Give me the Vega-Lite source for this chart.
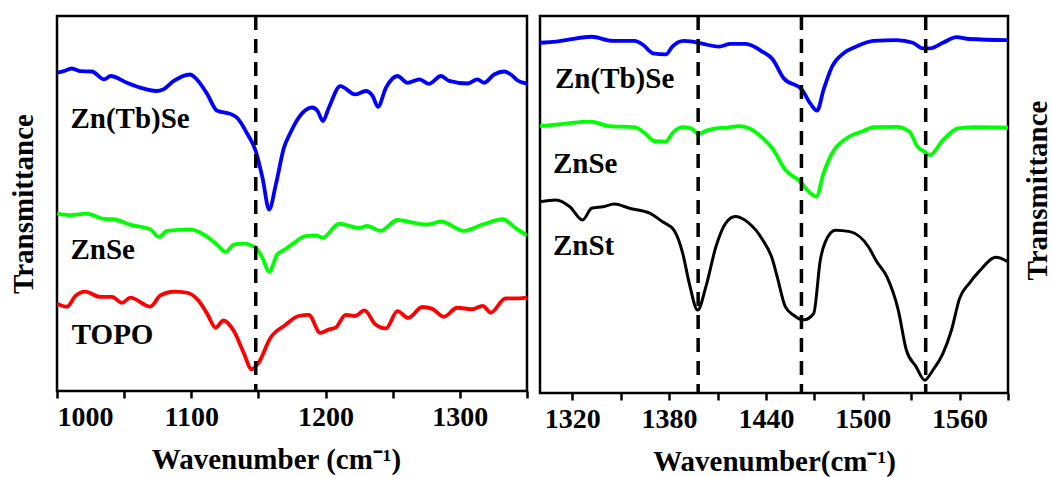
{
  "$schema": "https://vega.github.io/schema/vega-lite/v6.json",
  "background": "white",
  "padding": {"left": 7, "top": 13, "right": 0, "bottom": 0},
  "spacing": 8,
  "config": {
    "view": {"stroke": "black", "strokeWidth": 2.5},
    "axis": {
      "domain": false,
      "grid": false,
      "tickColor": "black",
      "tickWidth": 2.5,
      "tickSize": 7,
      "labelFont": "Liberation Serif",
      "labelFontWeight": "bold",
      "labelFontSize": 28,
      "labelColor": "black",
      "labelPadding": 5,
      "titleFont": "Liberation Serif",
      "titleFontWeight": "bold",
      "titleFontSize": 29,
      "titleColor": "black",
      "titlePadding": 14
    }
  },
  "datasets": {
    "ftir_low": [
      {"s": "Zn(Tb)Se", "wn": 1000, "t": 84.9}, {"s": "Zn(Tb)Se", "wn": 1005, "t": 85.3}, {"s": "Zn(Tb)Se", "wn": 1011, "t": 86.0},
      {"s": "Zn(Tb)Se", "wn": 1017, "t": 85.3}, {"s": "Zn(Tb)Se", "wn": 1026, "t": 85.2}, {"s": "Zn(Tb)Se", "wn": 1035, "t": 83.1},
      {"s": "Zn(Tb)Se", "wn": 1040, "t": 84.0}, {"s": "Zn(Tb)Se", "wn": 1052, "t": 82.2}, {"s": "Zn(Tb)Se", "wn": 1062, "t": 80.9},
      {"s": "Zn(Tb)Se", "wn": 1074, "t": 80.0}, {"s": "Zn(Tb)Se", "wn": 1079, "t": 80.4}, {"s": "Zn(Tb)Se", "wn": 1087, "t": 82.7},
      {"s": "Zn(Tb)Se", "wn": 1099, "t": 84.4}, {"s": "Zn(Tb)Se", "wn": 1103, "t": 83.5}, {"s": "Zn(Tb)Se", "wn": 1112, "t": 79.1},
      {"s": "Zn(Tb)Se", "wn": 1119, "t": 74.8}, {"s": "Zn(Tb)Se", "wn": 1129, "t": 73.9}, {"s": "Zn(Tb)Se", "wn": 1134, "t": 72.9},
      {"s": "Zn(Tb)Se", "wn": 1142, "t": 68.4}, {"s": "Zn(Tb)Se", "wn": 1148, "t": 64.0}, {"s": "Zn(Tb)Se", "wn": 1153, "t": 56.9},
      {"s": "Zn(Tb)Se", "wn": 1158, "t": 48.4}, {"s": "Zn(Tb)Se", "wn": 1163, "t": 55.1}, {"s": "Zn(Tb)Se", "wn": 1169, "t": 64.9},
      {"s": "Zn(Tb)Se", "wn": 1174, "t": 69.0}, {"s": "Zn(Tb)Se", "wn": 1180, "t": 72.9}, {"s": "Zn(Tb)Se", "wn": 1190, "t": 75.6},
      {"s": "Zn(Tb)Se", "wn": 1194, "t": 74.7}, {"s": "Zn(Tb)Se", "wn": 1198, "t": 72.0}, {"s": "Zn(Tb)Se", "wn": 1202.5, "t": 75.6},
      {"s": "Zn(Tb)Se", "wn": 1211, "t": 81.3}, {"s": "Zn(Tb)Se", "wn": 1222, "t": 79.1}, {"s": "Zn(Tb)Se", "wn": 1230, "t": 80.0},
      {"s": "Zn(Tb)Se", "wn": 1235, "t": 78.7}, {"s": "Zn(Tb)Se", "wn": 1239, "t": 75.8}, {"s": "Zn(Tb)Se", "wn": 1245, "t": 80.9},
      {"s": "Zn(Tb)Se", "wn": 1253.5, "t": 84.0}, {"s": "Zn(Tb)Se", "wn": 1261, "t": 82.2}, {"s": "Zn(Tb)Se", "wn": 1270, "t": 83.1},
      {"s": "Zn(Tb)Se", "wn": 1277, "t": 81.9}, {"s": "Zn(Tb)Se", "wn": 1286, "t": 84.0}, {"s": "Zn(Tb)Se", "wn": 1292, "t": 82.7},
      {"s": "Zn(Tb)Se", "wn": 1306, "t": 82.0}, {"s": "Zn(Tb)Se", "wn": 1313, "t": 83.1}, {"s": "Zn(Tb)Se", "wn": 1318, "t": 82.2},
      {"s": "Zn(Tb)Se", "wn": 1325.5, "t": 84.4}, {"s": "Zn(Tb)Se", "wn": 1333, "t": 85.2}, {"s": "Zn(Tb)Se", "wn": 1338, "t": 84.4},
      {"s": "Zn(Tb)Se", "wn": 1343, "t": 82.8}, {"s": "Zn(Tb)Se", "wn": 1350, "t": 82.0},

      {"s": "ZnSe", "wn": 1000, "t": 47.3}, {"s": "ZnSe", "wn": 1010, "t": 46.9}, {"s": "ZnSe", "wn": 1022, "t": 47.3},
      {"s": "ZnSe", "wn": 1035, "t": 45.9}, {"s": "ZnSe", "wn": 1042, "t": 45.8}, {"s": "ZnSe", "wn": 1055, "t": 44.3},
      {"s": "ZnSe", "wn": 1069.5, "t": 43.1}, {"s": "ZnSe", "wn": 1076, "t": 41.1}, {"s": "ZnSe", "wn": 1082, "t": 42.7},
      {"s": "ZnSe", "wn": 1099, "t": 43.1}, {"s": "ZnSe", "wn": 1107, "t": 42.2}, {"s": "ZnSe", "wn": 1119, "t": 39.1},
      {"s": "ZnSe", "wn": 1125.5, "t": 37.1}, {"s": "ZnSe", "wn": 1132, "t": 39.1}, {"s": "ZnSe", "wn": 1139, "t": 39.3},
      {"s": "ZnSe", "wn": 1148, "t": 38.2}, {"s": "ZnSe", "wn": 1153, "t": 35.5}, {"s": "ZnSe", "wn": 1158, "t": 31.8},
      {"s": "ZnSe", "wn": 1164, "t": 36.4}, {"s": "ZnSe", "wn": 1170, "t": 37.8}, {"s": "ZnSe", "wn": 1175, "t": 39.1},
      {"s": "ZnSe", "wn": 1185, "t": 41.3}, {"s": "ZnSe", "wn": 1192.5, "t": 41.5}, {"s": "ZnSe", "wn": 1198, "t": 40.9},
      {"s": "ZnSe", "wn": 1210, "t": 44.6}, {"s": "ZnSe", "wn": 1225, "t": 43.5}, {"s": "ZnSe", "wn": 1231, "t": 44.0},
      {"s": "ZnSe", "wn": 1241, "t": 42.7}, {"s": "ZnSe", "wn": 1253.5, "t": 45.6}, {"s": "ZnSe", "wn": 1265, "t": 44.9},
      {"s": "ZnSe", "wn": 1276, "t": 44.4}, {"s": "ZnSe", "wn": 1286, "t": 45.2}, {"s": "ZnSe", "wn": 1303, "t": 42.7},
      {"s": "ZnSe", "wn": 1317, "t": 44.4}, {"s": "ZnSe", "wn": 1332, "t": 45.8}, {"s": "ZnSe", "wn": 1342, "t": 43.3},
      {"s": "ZnSe", "wn": 1350, "t": 41.5},

      {"s": "TOPO", "wn": 1000, "t": 23.3}, {"s": "TOPO", "wn": 1007.5, "t": 22.5}, {"s": "TOPO", "wn": 1013.6, "t": 25.3},
      {"s": "TOPO", "wn": 1021, "t": 26.5}, {"s": "TOPO", "wn": 1032, "t": 25.1}, {"s": "TOPO", "wn": 1041, "t": 25.1},
      {"s": "TOPO", "wn": 1048.5, "t": 23.5}, {"s": "TOPO", "wn": 1054.6, "t": 24.9}, {"s": "TOPO", "wn": 1069.5, "t": 22.5},
      {"s": "TOPO", "wn": 1077, "t": 25.5}, {"s": "TOPO", "wn": 1087, "t": 26.5}, {"s": "TOPO", "wn": 1097, "t": 26.2},
      {"s": "TOPO", "wn": 1105.6, "t": 24.0}, {"s": "TOPO", "wn": 1112, "t": 20.5}, {"s": "TOPO", "wn": 1118, "t": 16.9},
      {"s": "TOPO", "wn": 1124, "t": 18.8}, {"s": "TOPO", "wn": 1131.7, "t": 16.0}, {"s": "TOPO", "wn": 1139, "t": 10.2},
      {"s": "TOPO", "wn": 1145, "t": 5.8}, {"s": "TOPO", "wn": 1150, "t": 7.5}, {"s": "TOPO", "wn": 1159, "t": 14.2},
      {"s": "TOPO", "wn": 1170, "t": 17.6}, {"s": "TOPO", "wn": 1180, "t": 20.0}, {"s": "TOPO", "wn": 1187.5, "t": 20.3},
      {"s": "TOPO", "wn": 1196, "t": 15.5}, {"s": "TOPO", "wn": 1202.5, "t": 16.4}, {"s": "TOPO", "wn": 1207.5, "t": 16.9},
      {"s": "TOPO", "wn": 1215, "t": 20.3}, {"s": "TOPO", "wn": 1222, "t": 20.0}, {"s": "TOPO", "wn": 1229, "t": 21.5},
      {"s": "TOPO", "wn": 1237, "t": 17.8}, {"s": "TOPO", "wn": 1245, "t": 16.7}, {"s": "TOPO", "wn": 1253.5, "t": 21.3},
      {"s": "TOPO", "wn": 1261.6, "t": 19.5}, {"s": "TOPO", "wn": 1272, "t": 22.4}, {"s": "TOPO", "wn": 1279.5, "t": 21.9},
      {"s": "TOPO", "wn": 1288, "t": 19.8}, {"s": "TOPO", "wn": 1298, "t": 22.2}, {"s": "TOPO", "wn": 1309, "t": 21.8},
      {"s": "TOPO", "wn": 1317, "t": 22.7}, {"s": "TOPO", "wn": 1323, "t": 20.9}, {"s": "TOPO", "wn": 1334, "t": 24.7},
      {"s": "TOPO", "wn": 1344, "t": 24.7}, {"s": "TOPO", "wn": 1350, "t": 24.9}
    ],
    "ftir_high": [
      {"s": "Zn(Tb)Se", "wn": 1300, "t": 92.9}, {"s": "Zn(Tb)Se", "wn": 1310, "t": 93.2}, {"s": "Zn(Tb)Se", "wn": 1318.5, "t": 93.8},
      {"s": "Zn(Tb)Se", "wn": 1332, "t": 94.5}, {"s": "Zn(Tb)Se", "wn": 1345, "t": 93.4}, {"s": "Zn(Tb)Se", "wn": 1358.6, "t": 93.4},
      {"s": "Zn(Tb)Se", "wn": 1364, "t": 92.3}, {"s": "Zn(Tb)Se", "wn": 1370, "t": 90.1}, {"s": "Zn(Tb)Se", "wn": 1378, "t": 89.8},
      {"s": "Zn(Tb)Se", "wn": 1382, "t": 91.9}, {"s": "Zn(Tb)Se", "wn": 1389, "t": 93.4}, {"s": "Zn(Tb)Se", "wn": 1394.6, "t": 93.2},
      {"s": "Zn(Tb)Se", "wn": 1401, "t": 92.6}, {"s": "Zn(Tb)Se", "wn": 1411, "t": 91.9}, {"s": "Zn(Tb)Se", "wn": 1418, "t": 92.6},
      {"s": "Zn(Tb)Se", "wn": 1427.5, "t": 92.6}, {"s": "Zn(Tb)Se", "wn": 1438, "t": 90.5}, {"s": "Zn(Tb)Se", "wn": 1444, "t": 88.6},
      {"s": "Zn(Tb)Se", "wn": 1451, "t": 83.5}, {"s": "Zn(Tb)Se", "wn": 1462.4, "t": 80.4}, {"s": "Zn(Tb)Se", "wn": 1467.5, "t": 76.8},
      {"s": "Zn(Tb)Se", "wn": 1471.7, "t": 74.9}, {"s": "Zn(Tb)Se", "wn": 1475.7, "t": 80.4}, {"s": "Zn(Tb)Se", "wn": 1481, "t": 86.6},
      {"s": "Zn(Tb)Se", "wn": 1488, "t": 90.1}, {"s": "Zn(Tb)Se", "wn": 1496, "t": 91.9}, {"s": "Zn(Tb)Se", "wn": 1506.6, "t": 93.4},
      {"s": "Zn(Tb)Se", "wn": 1521, "t": 93.6}, {"s": "Zn(Tb)Se", "wn": 1531, "t": 92.9}, {"s": "Zn(Tb)Se", "wn": 1537.4, "t": 91.4},
      {"s": "Zn(Tb)Se", "wn": 1541.5, "t": 91.4}, {"s": "Zn(Tb)Se", "wn": 1549.7, "t": 92.9}, {"s": "Zn(Tb)Se", "wn": 1558, "t": 94.4},
      {"s": "Zn(Tb)Se", "wn": 1566, "t": 93.9}, {"s": "Zn(Tb)Se", "wn": 1590, "t": 93.6},

      {"s": "ZnSe", "wn": 1300, "t": 70.8}, {"s": "ZnSe", "wn": 1314.5, "t": 71.4}, {"s": "ZnSe", "wn": 1331, "t": 72.0},
      {"s": "ZnSe", "wn": 1343, "t": 70.8}, {"s": "ZnSe", "wn": 1358.6, "t": 70.5}, {"s": "ZnSe", "wn": 1365, "t": 68.9},
      {"s": "ZnSe", "wn": 1371, "t": 66.8}, {"s": "ZnSe", "wn": 1378, "t": 66.7}, {"s": "ZnSe", "wn": 1382, "t": 68.9},
      {"s": "ZnSe", "wn": 1388, "t": 70.5}, {"s": "ZnSe", "wn": 1393.6, "t": 70.2}, {"s": "ZnSe", "wn": 1398.3, "t": 68.7},
      {"s": "ZnSe", "wn": 1403, "t": 69.6}, {"s": "ZnSe", "wn": 1409, "t": 70.2}, {"s": "ZnSe", "wn": 1416, "t": 70.4},
      {"s": "ZnSe", "wn": 1423, "t": 70.8}, {"s": "ZnSe", "wn": 1429.5, "t": 70.2}, {"s": "ZnSe", "wn": 1438, "t": 67.6},
      {"s": "ZnSe", "wn": 1444, "t": 64.9}, {"s": "ZnSe", "wn": 1452, "t": 59.2}, {"s": "ZnSe", "wn": 1461.4, "t": 56.0},
      {"s": "ZnSe", "wn": 1466.5, "t": 53.4}, {"s": "ZnSe", "wn": 1471.2, "t": 52.1}, {"s": "ZnSe", "wn": 1475.7, "t": 58.3},
      {"s": "ZnSe", "wn": 1481, "t": 63.6}, {"s": "ZnSe", "wn": 1490, "t": 67.6}, {"s": "ZnSe", "wn": 1500.4, "t": 69.5},
      {"s": "ZnSe", "wn": 1506.6, "t": 70.5}, {"s": "ZnSe", "wn": 1521, "t": 70.6}, {"s": "ZnSe", "wn": 1529, "t": 69.3},
      {"s": "ZnSe", "wn": 1534, "t": 65.3}, {"s": "ZnSe", "wn": 1538.4, "t": 64.0}, {"s": "ZnSe", "wn": 1541.5, "t": 63.1},
      {"s": "ZnSe", "wn": 1549.7, "t": 67.1}, {"s": "ZnSe", "wn": 1559, "t": 70.2}, {"s": "ZnSe", "wn": 1570, "t": 70.5},
      {"s": "ZnSe", "wn": 1590, "t": 70.4},

      {"s": "ZnSt", "wn": 1300, "t": 50.7}, {"s": "ZnSt", "wn": 1310, "t": 51.2}, {"s": "ZnSt", "wn": 1318.5, "t": 49.4},
      {"s": "ZnSt", "wn": 1326.4, "t": 45.9}, {"s": "ZnSt", "wn": 1332, "t": 49.0}, {"s": "ZnSt", "wn": 1339, "t": 49.4},
      {"s": "ZnSt", "wn": 1346, "t": 50.1}, {"s": "ZnSt", "wn": 1355.5, "t": 49.0}, {"s": "ZnSt", "wn": 1368, "t": 47.7},
      {"s": "ZnSt", "wn": 1376, "t": 45.4}, {"s": "ZnSt", "wn": 1383, "t": 43.2}, {"s": "ZnSt", "wn": 1388.4, "t": 37.1},
      {"s": "ZnSt", "wn": 1392.5, "t": 29.1}, {"s": "ZnSt", "wn": 1397.7, "t": 22.0}, {"s": "ZnSt", "wn": 1402.8, "t": 28.2},
      {"s": "ZnSt", "wn": 1409, "t": 38.8}, {"s": "ZnSt", "wn": 1415, "t": 45.0}, {"s": "ZnSt", "wn": 1421, "t": 46.8},
      {"s": "ZnSt", "wn": 1428.5, "t": 45.4}, {"s": "ZnSt", "wn": 1438, "t": 40.6}, {"s": "ZnSt", "wn": 1444, "t": 35.5},
      {"s": "ZnSt", "wn": 1447, "t": 30.8}, {"s": "ZnSt", "wn": 1452, "t": 22.9}, {"s": "ZnSt", "wn": 1457, "t": 20.7},
      {"s": "ZnSt", "wn": 1463.4, "t": 19.4}, {"s": "ZnSt", "wn": 1469.6, "t": 21.1}, {"s": "ZnSt", "wn": 1473.7, "t": 35.3},
      {"s": "ZnSt", "wn": 1476.8, "t": 40.1}, {"s": "ZnSt", "wn": 1483, "t": 43.2}, {"s": "ZnSt", "wn": 1492, "t": 42.8},
      {"s": "ZnSt", "wn": 1503.5, "t": 38.8}, {"s": "ZnSt", "wn": 1508.7, "t": 34.8}, {"s": "ZnSt", "wn": 1515, "t": 30.8},
      {"s": "ZnSt", "wn": 1522, "t": 22.0}, {"s": "ZnSt", "wn": 1527, "t": 11.4}, {"s": "ZnSt", "wn": 1533, "t": 7.0},
      {"s": "ZnSt", "wn": 1538.4, "t": 3.4}, {"s": "ZnSt", "wn": 1543.5, "t": 6.1}, {"s": "ZnSt", "wn": 1549.7, "t": 10.5},
      {"s": "ZnSt", "wn": 1555, "t": 16.7}, {"s": "ZnSt", "wn": 1560, "t": 25.1}, {"s": "ZnSt", "wn": 1566, "t": 29.1},
      {"s": "ZnSt", "wn": 1572, "t": 32.2}, {"s": "ZnSt", "wn": 1582.6, "t": 36.0}, {"s": "ZnSt", "wn": 1590, "t": 34.8}
    ],
    "peaks_low": [{"wn": 1148}],
    "peaks_high": [{"wn": 1398}, {"wn": 1462}, {"wn": 1539}],
    "labels_low": [
      {"label": "Zn(Tb)Se", "wn": 1010, "t": 70.1},
      {"label": "ZnSe", "wn": 1010, "t": 35.2},
      {"label": "TOPO", "wn": 1011, "t": 12.5}
    ],
    "labels_high": [
      {"label": "Zn(Tb)Se", "wn": 1309.3, "t": 80.8},
      {"label": "ZnSe", "wn": 1308, "t": 58.4},
      {"label": "ZnSt", "wn": 1308, "t": 36.6}
    ]
  },
  "hconcat": [
    {
      "width": 470,
      "height": 375,
      "layer": [
        {
          "data": {"name": "ftir_low"},
          "mark": {"type": "line", "interpolate": "monotone", "strokeWidth": 3.8, "clip": true},
          "encoding": {
            "x": {
              "field": "wn", "type": "quantitative",
              "scale": {"domain": [1000, 1350], "nice": false, "zero": false},
              "axis": {
                "title": "Wavenumber (cm⁻¹)",
                "titleX": 219,
                "values": [1000, 1050, 1100, 1150, 1200, 1250, 1300, 1350],
                "format": "d",
                "labelExpr": "datum.value % 100 === 0 ? datum.label : ''",
                "labelFont": "Liberation Serif", "labelFontWeight": "bold", "labelFontSize": 28
              }
            },
            "y": {
              "field": "t", "type": "quantitative",
              "scale": {"domain": [0, 100], "nice": false, "zero": false},
              "axis": {"title": "Transmittance", "labels": false, "ticks": false, "titlePadding": 19}
            },
            "color": {
              "field": "s", "type": "nominal",
              "scale": {"domain": ["Zn(Tb)Se", "ZnSe", "TOPO", "ZnSt"], "range": ["#0000ff", "#00ff00", "#ff0000", "#000000"]},
              "legend": null
            }
          }
        },
        {
          "data": {"name": "peaks_low"},
          "mark": {"type": "rule", "color": "black", "strokeWidth": 3.5, "strokeDash": [14, 9]},
          "encoding": {"x": {"field": "wn", "type": "quantitative"}}
        },
        {
          "data": {"name": "labels_low"},
          "mark": {"type": "text", "align": "left", "baseline": "alphabetic", "font": "Liberation Serif", "fontWeight": "bold", "fontSize": 29, "color": "black"},
          "encoding": {
            "x": {"field": "wn", "type": "quantitative"},
            "y": {"field": "t", "type": "quantitative"},
            "text": {"field": "label"}
          }
        }
      ]
    },
    {
      "width": 468,
      "height": 377,
      "layer": [
        {
          "data": {"name": "ftir_high"},
          "transform": [{"filter": "datum.s !== 'ZnSt'"}],
          "mark": {"type": "line", "interpolate": "monotone", "strokeWidth": 3.8, "clip": true},
          "encoding": {
            "x": {
              "field": "wn", "type": "quantitative",
              "scale": {"domain": [1300, 1590], "nice": false, "zero": false},
              "axis": {
                "title": "Wavenumber(cm⁻¹)",
                "values": [1320, 1350, 1380, 1410, 1440, 1470, 1500, 1530, 1560, 1590],
                "format": "d",
                "labelExpr": "(datum.value - 1320) % 60 === 0 ? datum.label : ''",
                "labelFont": "Liberation Serif", "labelFontWeight": "bold", "labelFontSize": 28
              }
            },
            "y": {
              "field": "t", "type": "quantitative",
              "scale": {"domain": [0, 100], "nice": false, "zero": false},
              "axis": {"orient": "right", "title": "Transmittance", "labels": false, "ticks": false, "titleAngle": 270, "titleBaseline": "top", "titlePadding": 15, "titleY": 174}
            },
            "color": {
              "field": "s", "type": "nominal",
              "scale": {"domain": ["Zn(Tb)Se", "ZnSe", "TOPO", "ZnSt"], "range": ["#0000ff", "#00ff00", "#ff0000", "#000000"]},
              "legend": null
            }
          }
        },
        {
          "data": {"name": "ftir_high"},
          "transform": [{"filter": "datum.s === 'ZnSt'"}],
          "mark": {"type": "line", "interpolate": "monotone", "strokeWidth": 3, "clip": true, "color": "black"},
          "encoding": {
            "x": {"field": "wn", "type": "quantitative"},
            "y": {"field": "t", "type": "quantitative"}
          }
        },
        {
          "data": {"name": "peaks_high"},
          "mark": {"type": "rule", "color": "black", "strokeWidth": 3.5, "strokeDash": [14, 9]},
          "encoding": {"x": {"field": "wn", "type": "quantitative"}}
        },
        {
          "data": {"name": "labels_high"},
          "mark": {"type": "text", "align": "left", "baseline": "alphabetic", "font": "Liberation Serif", "fontWeight": "bold", "fontSize": 29, "color": "black"},
          "encoding": {
            "x": {"field": "wn", "type": "quantitative"},
            "y": {"field": "t", "type": "quantitative"},
            "text": {"field": "label"}
          }
        }
      ]
    }
  ]
}
